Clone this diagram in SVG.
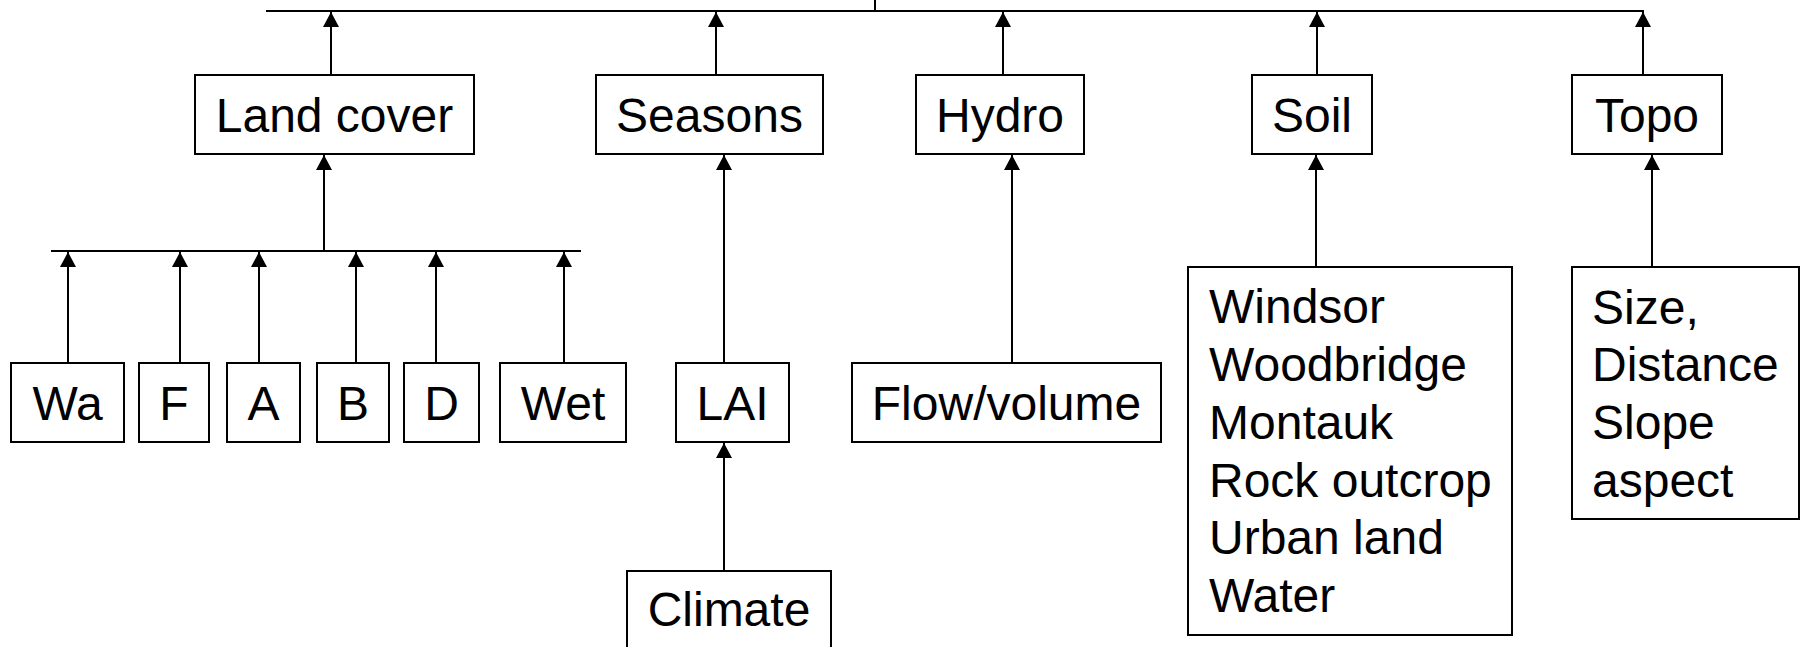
<svg xmlns="http://www.w3.org/2000/svg" width="1806" height="647" viewBox="0 0 1806 647">
<style>
.box{fill:#fff;stroke:#000;stroke-width:2}
.t{font-family:"Liberation Sans",Arial,sans-serif;font-size:48px;fill:#000}
.c{text-anchor:middle}
.bus{stroke:#000;stroke-width:2;fill:none}
.arr{stroke:#000;stroke-width:2;fill:none;marker-end:url(#ah)}
</style>
<defs>
<marker id="ah" markerUnits="userSpaceOnUse" markerWidth="16" markerHeight="18" refX="15" refY="9" orient="auto">
<path d="M0,1 L15,9 L0,17 z" fill="#000"/>
</marker>
</defs>
<rect width="1806" height="647" fill="#fff"/>
<g id="connectors">
<line class="bus" x1="266" y1="11" x2="1644" y2="11"/>
<line class="bus" x1="875" y1="0" x2="875" y2="11"/>
<line class="arr" x1="331" y1="75" x2="331" y2="12"/>
<line class="arr" x1="716" y1="75" x2="716" y2="12"/>
<line class="arr" x1="1003" y1="75" x2="1003" y2="12"/>
<line class="arr" x1="1317" y1="75" x2="1317" y2="12"/>
<line class="arr" x1="1643" y1="75" x2="1643" y2="12"/>
<line class="bus" x1="51" y1="251" x2="581" y2="251"/>
<line class="arr" x1="324" y1="251" x2="324" y2="155"/>
<line class="arr" x1="68" y1="363" x2="68" y2="252"/>
<line class="arr" x1="180" y1="363" x2="180" y2="252"/>
<line class="arr" x1="259" y1="363" x2="259" y2="252"/>
<line class="arr" x1="356" y1="363" x2="356" y2="252"/>
<line class="arr" x1="436" y1="363" x2="436" y2="252"/>
<line class="arr" x1="564" y1="363" x2="564" y2="252"/>
<line class="arr" x1="724" y1="363" x2="724" y2="155"/>
<line class="arr" x1="724" y1="571" x2="724" y2="443"/>
<line class="arr" x1="1012" y1="363" x2="1012" y2="155"/>
<line class="arr" x1="1316" y1="267" x2="1316" y2="155"/>
<line class="arr" x1="1652" y1="267" x2="1652" y2="155"/>
</g>
<g id="landcover"><rect class="box" x="195" y="75" width="279" height="79"/><text class="t c" x="334.5" y="132">Land cover</text></g>
<g id="seasons"><rect class="box" x="596" y="75" width="227" height="79"/><text class="t c" x="709.5" y="132">Seasons</text></g>
<g id="hydro"><rect class="box" x="916" y="75" width="168" height="79"/><text class="t c" x="1000" y="132">Hydro</text></g>
<g id="soil"><rect class="box" x="1252" y="75" width="120" height="79"/><text class="t c" x="1312" y="132">Soil</text></g>
<g id="topo"><rect class="box" x="1572" y="75" width="150" height="79"/><text class="t c" x="1647" y="132">Topo</text></g>
<g id="wa"><rect class="box" x="11" y="363" width="113" height="79"/><text class="t c" x="67.5" y="420">Wa</text></g>
<g id="f"><rect class="box" x="139" y="363" width="70" height="79"/><text class="t c" x="174" y="420">F</text></g>
<g id="a"><rect class="box" x="227" y="363" width="73" height="79"/><text class="t c" x="263.5" y="420">A</text></g>
<g id="b"><rect class="box" x="317" y="363" width="72" height="79"/><text class="t c" x="353" y="420">B</text></g>
<g id="d"><rect class="box" x="404" y="363" width="75" height="79"/><text class="t c" x="441.5" y="420">D</text></g>
<g id="wet"><rect class="box" x="500" y="363" width="126" height="79"/><text class="t c" x="563" y="420">Wet</text></g>
<g id="lai"><rect class="box" x="676" y="363" width="113" height="79"/><text class="t c" x="732.5" y="420">LAI</text></g>
<g id="flow"><rect class="box" x="852" y="363" width="309" height="79"/><text class="t c" x="1006.5" y="420">Flow/volume</text></g>
<g id="climate"><rect class="box" x="627" y="571" width="204" height="110"/><text class="t c" x="729" y="626">Climate</text></g>
<g id="soillist"><rect class="box" x="1188" y="267" width="324" height="368"/>
<text class="t" x="1209" y="323">Windsor</text>
<text class="t" x="1209" y="381">Woodbridge</text>
<text class="t" x="1209" y="439">Montauk</text>
<text class="t" x="1209" y="497">Rock outcrop</text>
<text class="t" x="1209" y="554">Urban land</text>
<text class="t" x="1209" y="612">Water</text>
</g>
<g id="topolist"><rect class="box" x="1572" y="267" width="227" height="252"/>
<text class="t" x="1592" y="324">Size,</text>
<text class="t" x="1592" y="381">Distance</text>
<text class="t" x="1592" y="439">Slope</text>
<text class="t" x="1592" y="497">aspect</text>
</g>
</svg>
